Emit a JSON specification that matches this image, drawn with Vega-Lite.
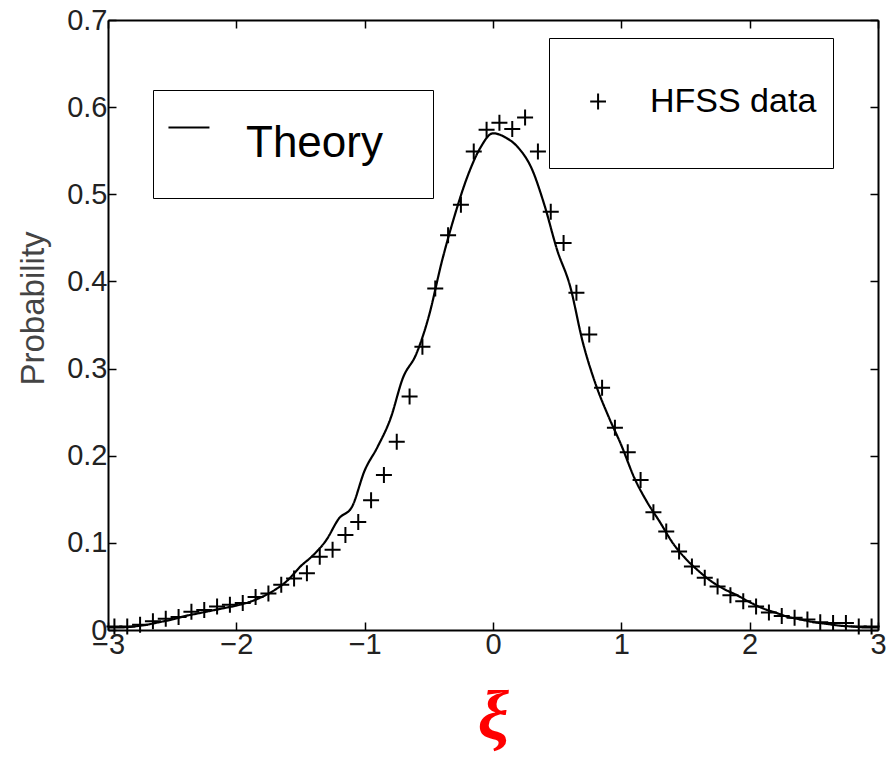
{
  "$schema": "https://vega.github.io/schema/vega-lite/v6.json",
  "width": 770,
  "height": 610,
  "autosize": {"type": "none"},
  "padding": {"left": 108, "top": 20, "right": 8, "bottom": 130},
  "background": "white",
  "config": {
    "view": {"stroke": null},
    "font": "Liberation Sans",
    "axis": {
      "grid": false,
      "domainColor": "black",
      "domainWidth": 2,
      "tickColor": "black",
      "tickWidth": 1.5,
      "tickSize": -8,
      "labelFont": "Liberation Sans",
      "labelFontSize": 29,
      "labelColor": "#222",
      "labelFlush": false,
      "labelOverlap": false
    }
  },
  "datasets": {
    "theory": [
      {"xi": -3.0, "p": 0.003}, {"xi": -2.9, "p": 0.003}, {"xi": -2.8, "p": 0.004}, {"xi": -2.7, "p": 0.006},
      {"xi": -2.6, "p": 0.009}, {"xi": -2.5, "p": 0.012}, {"xi": -2.4, "p": 0.016}, {"xi": -2.3, "p": 0.019},
      {"xi": -2.2, "p": 0.022}, {"xi": -2.1, "p": 0.025}, {"xi": -2.0, "p": 0.028}, {"xi": -1.9, "p": 0.032},
      {"xi": -1.8, "p": 0.038}, {"xi": -1.7, "p": 0.046}, {"xi": -1.6, "p": 0.057}, {"xi": -1.5, "p": 0.073},
      {"xi": -1.4, "p": 0.086}, {"xi": -1.3, "p": 0.103}, {"xi": -1.2, "p": 0.128}, {"xi": -1.1, "p": 0.141},
      {"xi": -1.0, "p": 0.183}, {"xi": -0.9, "p": 0.21}, {"xi": -0.8, "p": 0.242}, {"xi": -0.7, "p": 0.29},
      {"xi": -0.6, "p": 0.316}, {"xi": -0.5, "p": 0.36}, {"xi": -0.4, "p": 0.422}, {"xi": -0.3, "p": 0.475},
      {"xi": -0.2, "p": 0.52}, {"xi": -0.1, "p": 0.553}, {"xi": 0.0, "p": 0.57}, {"xi": 0.1, "p": 0.565},
      {"xi": 0.2, "p": 0.553}, {"xi": 0.3, "p": 0.53}, {"xi": 0.4, "p": 0.488}, {"xi": 0.5, "p": 0.436},
      {"xi": 0.6, "p": 0.395}, {"xi": 0.7, "p": 0.33}, {"xi": 0.8, "p": 0.282}, {"xi": 0.9, "p": 0.245},
      {"xi": 1.0, "p": 0.212}, {"xi": 1.1, "p": 0.175}, {"xi": 1.2, "p": 0.147}, {"xi": 1.3, "p": 0.124},
      {"xi": 1.4, "p": 0.1}, {"xi": 1.5, "p": 0.082}, {"xi": 1.6, "p": 0.068}, {"xi": 1.7, "p": 0.056},
      {"xi": 1.8, "p": 0.047}, {"xi": 1.9, "p": 0.04}, {"xi": 2.0, "p": 0.032}, {"xi": 2.1, "p": 0.025},
      {"xi": 2.2, "p": 0.02}, {"xi": 2.3, "p": 0.015}, {"xi": 2.4, "p": 0.012}, {"xi": 2.5, "p": 0.009},
      {"xi": 2.6, "p": 0.007}, {"xi": 2.7, "p": 0.005}, {"xi": 2.8, "p": 0.004}, {"xi": 2.9, "p": 0.003},
      {"xi": 3.0, "p": 0.003}
    ],
    "hfss": [
      {"xi": -2.95, "p": 0.004}, {"xi": -2.85, "p": 0.004}, {"xi": -2.75, "p": 0.006}, {"xi": -2.65, "p": 0.01},
      {"xi": -2.55, "p": 0.013}, {"xi": -2.45, "p": 0.015}, {"xi": -2.35, "p": 0.021}, {"xi": -2.25, "p": 0.023},
      {"xi": -2.15, "p": 0.027}, {"xi": -2.05, "p": 0.029}, {"xi": -1.95, "p": 0.031}, {"xi": -1.85, "p": 0.038},
      {"xi": -1.75, "p": 0.042}, {"xi": -1.65, "p": 0.052}, {"xi": -1.55, "p": 0.059}, {"xi": -1.45, "p": 0.065},
      {"xi": -1.35, "p": 0.084}, {"xi": -1.25, "p": 0.092}, {"xi": -1.15, "p": 0.109}, {"xi": -1.05, "p": 0.124},
      {"xi": -0.95, "p": 0.149}, {"xi": -0.85, "p": 0.178}, {"xi": -0.75, "p": 0.216}, {"xi": -0.65, "p": 0.268},
      {"xi": -0.55, "p": 0.325}, {"xi": -0.45, "p": 0.392}, {"xi": -0.35, "p": 0.453}, {"xi": -0.25, "p": 0.488},
      {"xi": -0.15, "p": 0.549}, {"xi": -0.05, "p": 0.574}, {"xi": 0.05, "p": 0.582}, {"xi": 0.15, "p": 0.575},
      {"xi": 0.25, "p": 0.588}, {"xi": 0.35, "p": 0.549}, {"xi": 0.45, "p": 0.48}, {"xi": 0.55, "p": 0.444},
      {"xi": 0.65, "p": 0.387}, {"xi": 0.75, "p": 0.339}, {"xi": 0.85, "p": 0.278}, {"xi": 0.95, "p": 0.232},
      {"xi": 1.05, "p": 0.204}, {"xi": 1.15, "p": 0.172}, {"xi": 1.25, "p": 0.135}, {"xi": 1.35, "p": 0.113},
      {"xi": 1.45, "p": 0.09}, {"xi": 1.55, "p": 0.073}, {"xi": 1.65, "p": 0.06}, {"xi": 1.75, "p": 0.05},
      {"xi": 1.85, "p": 0.04}, {"xi": 1.95, "p": 0.033}, {"xi": 2.05, "p": 0.027}, {"xi": 2.15, "p": 0.02},
      {"xi": 2.25, "p": 0.016}, {"xi": 2.35, "p": 0.014}, {"xi": 2.45, "p": 0.012}, {"xi": 2.55, "p": 0.009},
      {"xi": 2.65, "p": 0.008}, {"xi": 2.75, "p": 0.008}, {"xi": 2.85, "p": 0.004}, {"xi": 2.95, "p": 0.004}
    ]
  },
  "layer": [
    {
      "data": {"name": "theory"},
      "mark": {"type": "line", "color": "black", "strokeWidth": 2.2, "interpolate": "monotone"},
      "encoding": {
        "x": {
          "field": "xi", "type": "quantitative",
          "scale": {"domain": [-3, 3], "nice": false, "zero": false},
          "axis": {
            "orient": "bottom", "values": [-3, -2, -1, 0, 1, 2, 3], "labelPadding": 8,
            "title": "ξ", "titleColor": "#ff0000", "titleFont": "Liberation Serif",
            "titleFontStyle": "italic", "titleFontWeight": "bold", "titleFontSize": 70, "titlePadding": 24
          }
        },
        "y": {
          "field": "p", "type": "quantitative",
          "scale": {"domain": [0, 0.7], "nice": false},
          "axis": {
            "orient": "left", "values": [0, 0.1, 0.2, 0.3, 0.4, 0.5, 0.6, 0.7], "format": "~g",
            "labelPadding": 9, "title": "Probability", "titleColor": "#444", "titleFontSize": 33,
            "titleFontWeight": "normal", "titlePadding": 16, "titleFont": "Liberation Sans", "titleY": 288
          }
        },
        "strokeDash": {
          "datum": "Theory",
          "scale": {"domain": ["Theory"], "range": [[1, 0]]},
          "legend": {
            "orient": "none", "legendX": 45, "legendY": 70, "title": null,
            "padding": 32, "strokeColor": "black", "fillColor": "white",
            "symbolType": "M-1.88,-0.8H0.12M9.25,-0.8h0", "symbolSize": 1681, "symbolStrokeWidth": 2,
            "symbolStrokeColor": "black", "labelFontSize": 44, "labelOffset": 17,
            "labelColor": "black", "labelFont": "Liberation Sans", "labelLimit": 400
          }
        }
      }
    },
    {
      "data": {"name": "hfss"},
      "mark": {"type": "point", "shape": "M-1,0H1M0,-1V1", "size": 256, "filled": false, "strokeWidth": 2, "opacity": 1},
      "encoding": {
        "x": {
          "field": "xi", "type": "quantitative",
          "scale": {"domain": [-3, 3], "nice": false, "zero": false},
          "axis": {"orient": "top", "values": [-3, -2, -1, 0, 1, 2, 3], "labels": false, "title": null}
        },
        "y": {
          "field": "p", "type": "quantitative",
          "scale": {"domain": [0, 0.7], "nice": false},
          "axis": {"orient": "right", "values": [0, 0.1, 0.2, 0.3, 0.4, 0.5, 0.6, 0.7], "labels": false, "title": null}
        },
        "color": {
          "datum": "HFSS data",
          "scale": {"domain": ["HFSS data"], "range": ["black"]},
          "legend": {
            "orient": "none", "legendX": 441, "legendY": 18, "title": null,
            "padding": 16, "strokeColor": "black", "fillColor": "white",
            "symbolType": "M-0.48,0H-0.14M-0.31,-0.17V0.17M-0.31,0.99h0", "symbolSize": 8649, "symbolStrokeWidth": 2,
            "symbolStrokeColor": "black", "labelFontSize": 34, "labelOffset": -10,
            "labelColor": "black", "labelFont": "Liberation Sans", "labelLimit": 400
          }
        }
      }
    }
  ],
  "resolve": {"axis": {"x": "independent", "y": "independent"}}
}
